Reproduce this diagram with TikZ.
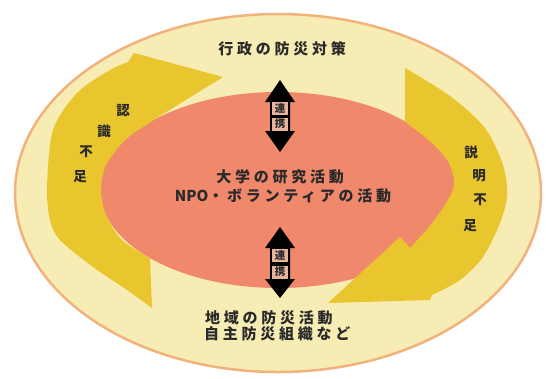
\documentclass[tikz,border=0pt]{standalone}
\usepackage{fontspec}
\newfontfamily\jp{Noto Sans CJK JP}
\newfontfamily\jpwide[LetterSpace=25]{Noto Sans CJK JP}
\definecolor{rim}{HTML}{F2B27C}
\definecolor{cream}{HTML}{F7EDB4}
\definecolor{arrowyel}{HTML}{E9C52E}
\definecolor{salmon}{HTML}{F0886C}
\definecolor{linkbg}{HTML}{E6B49C}
\definecolor{ink}{HTML}{2A2A2A}
\tikzset{
  maintext/.style={font=\jpwide\bfseries\fontsize{15}{17}\selectfont, text=ink, inner sep=0pt},
  vchar/.style={font=\jp\bfseries\fontsize{13.5}{15}\selectfont, text=ink, inner sep=0pt},
  linkbox/.style={fill=linkbg, minimum width=16pt, minimum height=13pt, inner sep=0pt,
                  font=\jp\bfseries\fontsize{10.5}{11}\selectfont, text=ink},
  linkarrow/.style={fill=black},
}
\begin{document}
\begin{tikzpicture}[x=1pt,y=-1pt]
\useasboundingbox (0,0) rectangle (546,378);
% outer ellipse
\draw[rim, line width=2.5pt, fill=cream] (278,193) ellipse [x radius=263pt, y radius=179pt];
% inner salmon ellipse
\fill[salmon] (278,190) ellipse [x radius=178pt, y radius=98pt];
% left arrow
\fill[arrowyel] (152,308) -- (150,258)
  -- plot[smooth] coordinates {(150,258) (122,240) (106,215) (101,190) (106,165) (125,140) (143,127)}
  -- (155,119) -- (223,77) -- (134,53) -- (128,62)
  -- plot[smooth] coordinates {(128,62) (110,70) (77,93) (53,130) (47,187) (50,220) (60,240) (93,267) (127,290) (152,308)}
  -- cycle;
% right arrow
\fill[arrowyel] (405,68) -- (405,122)
  -- plot[smooth] coordinates {(405,122) (420,133) (437,148) (450,165) (454,185) (445,205) (428,228) (410,248)}
  -- (400,237) -- (328,303) -- (430,300)
  -- plot[smooth] coordinates {(432,295) (460,280) (483,257) (500,223) (507,195) (503,165) (485,128) (450,96) (405,68)}
  -- cycle;
% upper link arrow
\fill[linkarrow] (280,80) -- (295,102) -- (290,102) -- (290,131) -- (295,131) -- (280,152)
  -- (265,131) -- (270,131) -- (270,102) -- (265,102) -- cycle;
\node[linkbox] (ren1) at (280,108) {連};
\node[linkbox] (kei1) at (280,124) {携};
% lower link arrow
\fill[linkarrow] (280,227) -- (295,248) -- (290,248) -- (290,279) -- (295,279) -- (280,298)
  -- (265,279) -- (270,279) -- (270,248) -- (265,248) -- cycle;
\node[linkbox] (ren2) at (280,255) {連};
\node[linkbox] (kei2) at (280,272) {携};
% texts
\node[maintext] (gyosei) at (282,49) {行政の防災対策};
\node[maintext] (daigaku) at (280,177) {大学の研究活動};
\node[maintext] (npo) at (283,196) {{\jp\bfseries NPO}・ボランティアの活動};
\node[maintext, anchor=west] (chiiki) at (205,318) {地域の防災活動};
\node[maintext, anchor=west] (jishu) at (204,334) {自主防災組織など};
% left vertical
\node[vchar] (nin) at (123,111) {認};
\node[vchar] (shiki) at (104,131) {識};
\node[vchar] (fu1) at (86,152) {不};
\node[vchar] (soku1) at (80,177) {足};
% right vertical
\node[vchar] (setsu) at (471,152) {説};
\node[vchar] (mei) at (479,176) {明};
\node[vchar] (fu2) at (480,200) {不};
\node[vchar] (soku2) at (470,226) {足};
\end{tikzpicture}
\end{document}
